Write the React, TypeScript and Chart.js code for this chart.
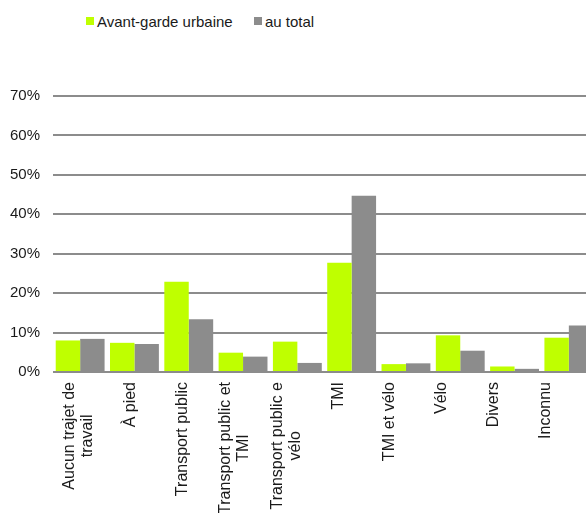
import React, { useEffect, useRef } from "react";
import { Chart, registerables } from "chart.js";

Chart.register(...registerables);

const categories: string[][] = [
  ["Aucun trajet de", "travail"],
  ["À pied"],
  ["Transport public"],
  ["Transport public et", "TMI"],
  ["Transport public e", "vélo"],
  ["TMI"],
  ["TMI et vélo"],
  ["Vélo"],
  ["Divers"],
  ["Inconnu"],
];

const seriesNames = ["Avant-garde urbaine", "au total"];
const avantGarde = [8.0, 7.4, 22.9, 4.9, 7.7, 27.7, 2.0, 9.3, 1.4, 8.7];
const auTotal = [8.4, 7.1, 13.4, 3.9, 2.3, 44.7, 2.2, 5.4, 0.8, 11.8];
const yTicks = [0, 10, 20, 30, 40, 50, 60, 70];

const GREEN = "#bfff00";
const GRAY = "#8c8c8c";
const TEXT = "#1a1a1a";
const FONT_FAMILY = '"Liberation Sans", Arial, sans-serif';
const LABEL_PAD = 10;
const LINE_H = 18;
const LABEL_SPREAD = 0.955;

const xLabelPlugin = {
  id: "xLabels",
  afterDraw(chart: any) {
    const scale = chart.scales.x;
    const ctx = chart.ctx as CanvasRenderingContext2D;
    const left = chart.chartArea.left;
    ctx.save();
    ctx.font = `16px ${FONT_FAMILY}`;
    ctx.fillStyle = TEXT;
    ctx.textBaseline = "middle";
    ctx.textAlign = "center";
    categories.forEach((lines, i) => {
      const px = left + (scale.getPixelForValue(i) - left) * LABEL_SPREAD;
      const maxW = Math.max(...lines.map((l) => ctx.measureText(l).width));
      ctx.save();
      ctx.translate(px, scale.top + LABEL_PAD + maxW / 2);
      ctx.rotate(-Math.PI / 2);
      lines.forEach((l, j) => {
        ctx.fillText(l, 0, (j - (lines.length - 1) / 2) * LINE_H);
      });
      ctx.restore();
    });
    ctx.restore();
  },
};

export default function App() {
  const canvasRef = useRef<HTMLCanvasElement | null>(null);

  useEffect(() => {
    if (!canvasRef.current) return;
    const chart = new Chart(canvasRef.current, {
      type: "bar",
      data: {
        labels: categories,
        datasets: [
          {
            label: seriesNames[0],
            data: avantGarde,
            backgroundColor: GREEN,
            borderWidth: 0,
          },
          {
            label: seriesNames[1],
            data: auTotal,
            backgroundColor: GRAY,
            borderWidth: 0,
          },
        ],
      },
      options: {
        animation: false,
        responsive: false,
        maintainAspectRatio: false,
        layout: { padding: { top: 96, left: 0, right: 0, bottom: 0 } },
        plugins: {
          legend: { display: false },
          tooltip: { enabled: false },
        },
        datasets: {
          bar: { categoryPercentage: 0.9, barPercentage: 1.0 },
        },
        scales: {
          x: {
            grid: { display: false, drawTicks: false },
            border: { display: false },
            ticks: { display: false },
            afterFit: (scale: any) => {
              scale.height = 141;
            },
          },
          y: {
            min: 0,
            max: 70,
            afterBuildTicks: (scale: any) => {
              scale.ticks = yTicks.map((v) => ({ value: v }));
            },
            grid: { color: GRAY, lineWidth: 2, drawTicks: false },
            border: { display: false },
            ticks: {
              padding: 13,
              color: TEXT,
              font: { family: FONT_FAMILY, size: 15 },
              callback: (v: any) => `${v}%`,
            },
            afterFit: (scale: any) => {
              scale.width = 45;
            },
          },
        },
      },
      plugins: [xLabelPlugin],
    });
    return () => chart.destroy();
  }, []);

  const legendText: React.CSSProperties = {
    position: "absolute",
    top: 13,
    font: `15px ${FONT_FAMILY}`,
    lineHeight: "17px",
    color: TEXT,
    whiteSpace: "nowrap",
  };
  const box = (color: string, left: number): React.CSSProperties => ({
    position: "absolute",
    left,
    top: 17,
    width: 8,
    height: 8,
    background: color,
  });

  return (
    <div
      style={{
        position: "fixed",
        left: 0,
        top: 0,
        width: 586,
        height: 513,
        overflow: "hidden",
        background: "#fff",
      }}
    >
      <div style={box(GREEN, 86)} />
      <div style={{ ...legendText, left: 97 }}>{seriesNames[0]}</div>
      <div style={box(GRAY, 254)} />
      <div style={{ ...legendText, left: 265 }}>{seriesNames[1]}</div>
      <canvas
        ref={canvasRef}
        width={588}
        height={513}
        style={{ position: "absolute", left: 8, top: 0, width: 588, height: 513 }}
      />
    </div>
  );
}
